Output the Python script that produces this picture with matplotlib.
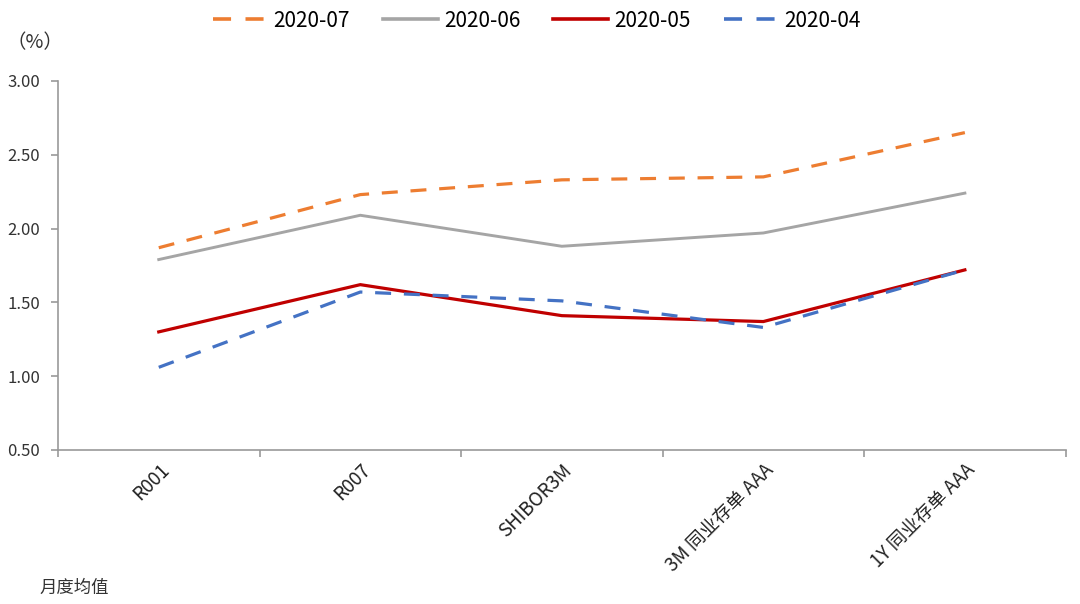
import matplotlib
matplotlib.use("Agg")
import matplotlib.pyplot as plt
from matplotlib.lines import Line2D
import numpy as np

plt.rcParams['font.family'] = ['Noto Sans CJK SC', 'DejaVu Sans']

categories = ["R001", "R007", "SHIBOR3M", "3M 同业存单 AAA", "1Y 同业存单 AAA"]
series_names = ["2020-07", "2020-06", "2020-05", "2020-04"]
v_2020_07 = [1.87, 2.23, 2.33, 2.35, 2.65]
v_2020_06 = [1.79, 2.09, 1.88, 1.97, 2.24]
v_2020_05 = [1.30, 1.62, 1.41, 1.37, 1.72]
v_2020_04 = [1.06, 1.57, 1.51, 1.33, 1.72]
yticks = [0.5, 1.0, 1.5, 2.0, 2.5, 3.0]

values = [v_2020_07, v_2020_06, v_2020_05, v_2020_04]
colors = ["#ED7D31", "#A5A5A5", "#C00000", "#4472C4"]
styles = [(0, (5, 4)), "-", "-", (0, (5, 4))]
widths = [2.3, 2.1, 2.3, 2.3]

fig = plt.figure(figsize=(10.8, 6.04), dpi=100)
ax = fig.add_axes([0.0537, 0.255, 0.933, 0.611])

x = np.arange(len(categories))
for vals, c, ls, lw in zip(values, colors, styles, widths):
    ax.plot(x, vals, color=c, linestyle=ls, linewidth=lw, zorder=3,
            solid_joinstyle="miter", dash_capstyle="butt")

ax.set_xlim(-0.5, len(categories) - 0.5)
ax.set_ylim(0.5, 3.0)
ax.set_yticks(yticks)
ax.set_yticklabels([f"{t:.2f}" for t in yticks], fontsize=12, color="#333333")
ax.set_xticks(np.arange(-0.5, len(categories), 1.0))
ax.set_xticklabels([])
ax.set_xticks(x, minor=True)
ax.set_xticklabels(categories, minor=True, rotation=45, ha="right", va="top",
                   rotation_mode="anchor", fontsize=13.5, color="#222222")
ax.tick_params(axis="x", which="minor", length=0, pad=7)
ax.tick_params(axis="x", which="major", length=5, color="#999999", width=1.2)
ax.tick_params(axis="y", length=5, color="#999999", width=1.2, pad=8)

for s in ["top", "right"]:
    ax.spines[s].set_visible(False)
for s in ["left", "bottom"]:
    ax.spines[s].set_color("#999999")
    ax.spines[s].set_linewidth(1.2)

handles = [Line2D([0], [0], color=c, lw=2.6, ls=ls) for c, ls in zip(colors, styles)]
fig.legend(handles, series_names, loc="upper center", bbox_to_anchor=(0.497, 1.015),
           ncol=4, frameon=False, fontsize=15, handlelength=2.6, handletextpad=0.3,
           columnspacing=1.6)

fig.text(0.006, 0.93, "（%）", fontsize=14, color="#333333", va="center")
fig.text(0.037, 0.027, "月度均值", fontsize=12.5, color="#333333", va="center")

fig.savefig("out.png", dpi=100)
